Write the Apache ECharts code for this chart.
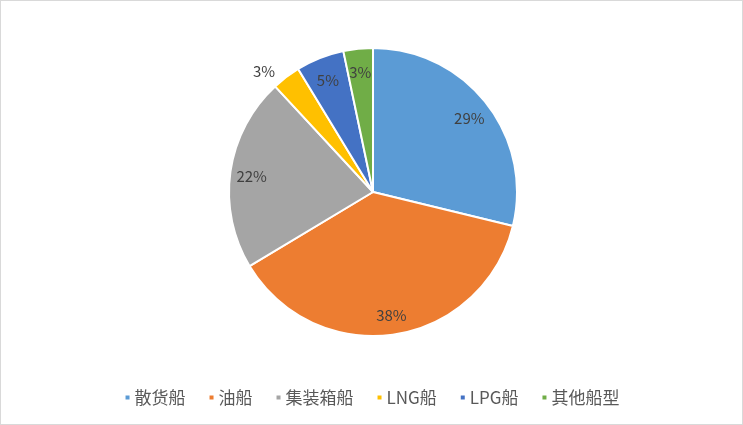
<!DOCTYPE html>
<html><head><meta charset="utf-8">
<script src="https://cdn.jsdelivr.net/npm/echarts@6/dist/echarts.min.js"></script>
<style>html,body{margin:0;padding:0;background:#fff}#c{width:743px;height:425px;box-sizing:border-box;border:1px solid #D9D9D9}</style>
</head><body><div id="c"></div>
<script>
const categories = ['散货船','油船','集装箱船','LNG船','LPG船','其他船型'];
const shares = [28.8, 37.6, 21.7, 3.2, 5.4, 3.3];
const colors = ['#5B9BD5','#ED7D31','#A5A5A5','#FFC000','#4472C4','#70AD47'];
const outsideLabel = ['LNG船'];

const chart = echarts.init(document.getElementById('c'));
const font = '"Noto Sans CJK SC", "Liberation Sans", sans-serif';
const center = [372, 191];
const R = 144;
const fmt = p => Math.round(p.percent) + '%';
chart.setOption({
  animation: false,
  color: colors,
  legend: {
    bottom: 13, left: 'center',
    icon: 'rect', itemWidth: 6, itemHeight: 6, itemGap: 22,
    textStyle: {fontFamily: font, fontSize: 17, color: '#595959', padding: [0,0,0,-1]},
    data: categories
  },
  series: [
    {
      type: 'pie', center: center, radius: [0, R], startAngle: 90, clockwise: true,
      silent: true,
      itemStyle: {borderColor: '#fff', borderWidth: 2},
      label: {show: false}, labelLine: {show: false},
      data: categories.map((n, i) => ({name: n, value: shares[i]}))
    },
    {
      type: 'pie', center: center, radius: [R * 0.66, R], startAngle: 90, clockwise: true,
      silent: true, legendHoverLink: false,
      itemStyle: {color: 'rgba(0,0,0,0)', borderWidth: 0},
      label: {show: true, position: 'inside', formatter: fmt, fontFamily: font, fontSize: 15, color: '#404040', offset: [0, 2]},
      labelLine: {show: false},
      data: categories.map((n, i) => {
        const d = {name: n + ' ', value: shares[i]};
        if (outsideLabel.includes(n)) {
          d.label = {position: 'outside'};
          d.labelLine = {show: false, length: 10, length2: 0};
        }
        return d;
      })
    }
  ]
});
</script></body></html>
